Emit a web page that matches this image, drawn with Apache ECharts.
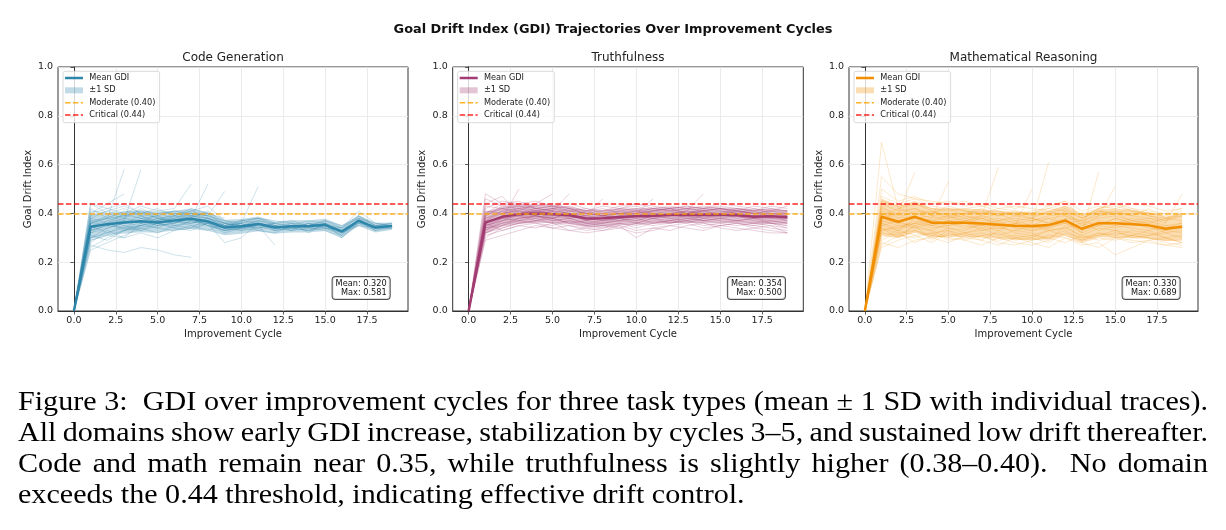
<!DOCTYPE html>
<html>
<head>
<meta charset="utf-8">
<script src="https://cdn.jsdelivr.net/npm/echarts@6/dist/echarts.min.js"></script>
<style>
html,body{margin:0;padding:0;background:#fff;}
#chart{position:absolute;left:0;top:0;width:1226px;height:530px;}
#caption{position:absolute;left:18px;top:385px;width:1107px;transform:scaleX(1.075);transform-origin:0 0;font-family:'Liberation Serif','Times New Roman',serif;font-size:28px;line-height:31px;color:#000;}
#caption .j{text-align:justify;text-align-last:justify;white-space:nowrap;}
#caption .l{text-align:left;white-space:nowrap;}
#caption .tight{word-spacing:-1.3px;}
</style>
</head>
<body>
<div id="chart"></div>
<div id="caption">
<div class="j">Figure 3:&nbsp; GDI over improvement cycles for three task types (mean ± 1 SD with individual traces).</div>
<div class="j tight">All domains show early GDI increase, stabilization by cycles 3–5, and sustained low drift thereafter.</div>
<div class="j">Code and math remain near 0.35, while truthfulness is slightly higher (0.38–0.40).&nbsp; No domain</div>
<div class="l">exceeds the 0.44 threshold, indicating effective drift control.</div>
</div>
<script>
// ---------------- DATA ----------------
const suptitle = 'Goal Drift Index (GDI) Trajectories Over Improvement Cycles';
const panelTitles = ['Code Generation', 'Truthfulness', 'Mathematical Reasoning'];
const cycles = [0,1,2,3,4,5,6,7,8,9,10,11,12,13,14,15,16,17,18,19];
const xTickValues = [0, 2.5, 5, 7.5, 10, 12.5, 15, 17.5];
const thresholdModerate = 0.40;
const thresholdCritical = 0.44;
const legendLabels = ['Mean GDI', '±1 SD', 'Moderate (0.40)', 'Critical (0.44)'];
const statsMean = ['0.320', '0.354', '0.330'];
const statsMax = ['0.581', '0.500', '0.689'];

// mean and standard deviation per cycle
const codeMean = [0,0.345,0.356,0.363,0.368,0.363,0.371,0.378,0.367,0.342,0.347,0.357,0.342,0.347,0.347,0.353,0.326,0.370,0.342,0.348];
const codeSD   = [0,0.050,0.045,0.045,0.045,0.042,0.040,0.042,0.038,0.032,0.030,0.030,0.025,0.025,0.025,0.025,0.025,0.022,0.020,0.015];
const truthMean = [0,0.362,0.386,0.397,0.400,0.397,0.392,0.379,0.380,0.385,0.388,0.390,0.393,0.393,0.393,0.393,0.392,0.386,0.388,0.384];
const truthSD   = [0,0.045,0.040,0.040,0.038,0.036,0.036,0.035,0.034,0.034,0.034,0.033,0.033,0.032,0.032,0.031,0.030,0.030,0.030,0.028];
const mathMean = [0,0.386,0.366,0.386,0.362,0.362,0.362,0.359,0.353,0.349,0.348,0.352,0.371,0.337,0.360,0.360,0.356,0.351,0.337,0.345];
const mathSD   = [0,0.075,0.065,0.065,0.060,0.058,0.058,0.058,0.057,0.057,0.057,0.058,0.060,0.055,0.058,0.060,0.058,0.055,0.050,0.055];

// individual traces, GDI x 100, one value per cycle starting at cycle 0
const codeTraces = [
 [0,34,36,38,37,35,36,38,37,34,35,36,34,35,34,35,33,37,34,35],
 [0,29,31,33,35,36,34,37,36,33,34,35,33,34,35,36,32,36,34,34],
 [0,41,40,42,39,40,41,39,38,35,36,37,35,36,35,36,34,39,35,36],
 [0,37,38,36,39,37,38,41,39,36,34,35,36,34,36,35,31,38,33,35],
 [0,32,34,36,35,38,37,36,37,35,37,38,35,33,34,34,33,36,35,35],
 [0,26,30,33,34,32,35,36,38,34,33,36,34,35,33,35,32,37,34],
 [0,44,40,38,42,39,37,40,38,35,36],
 [0,36,38,58],
 [0,33,35,37,58],
 [0,35,37,39,40,41,42,52],
 [0,30,32,34,33,35,36,38,52],
 [0,38,36,40,38,39,41,40,39,49],
 [0,36,35,37,36,38,37,36,37,35,36,51],
 [0,27,25,24,26,25,23,22],
 [0,40,44,48],
 [0,28,33,30,36,34,37,35,33,36,35,34,36],
 [0,39,41,43,40,42,39,41,43,37,36,38,37,36,35,37,34,41,36,35],
 [0,33,35,34,38,36,37,39,40,35,33,34,35,34,33,34,31,37,33,34],
 [0,36,39,37,36,40,38,37,36,32,34,33,32,35,34,33,30,36,33],
 [0,30,34,36,37,35,39,38,35,33,35,37,33,34,35,35,34,38,35,36],
 [0,42,38,39,41,38,36,39,37,34,37,36,34,33,36,34,33,35,34,34],
 [0,35,32,35,33,36,34,33,36,28,30,36,33,36,32,36,30,37,34,35],
 [0,38,41,39,38,37,40,39,38,36,35,37,36,37,35,37,35,38,36,35],
 [0,31,29,33,35,34,33,35,36,33,34],
 [0,36,38,41,39,36,38,40,39,37,35,34,36],
 [0,34,36,33,37,39,35,34,38,36,34,35,27],
 [0,29,31,30,32,30,33,34,36],
 [0,37,35,38,36,37,39,42,40,38],
 [0,33,37,35,34,36,35,37,35,33,34,36,35,33,36,34,32,35],
 [0,40,42,40,43,41,40,38,41,36,37,38,36,35,37,36,33,39,35,35],
 [0,25,28,31,34],
 [0,44,42,44,40,38,39,37],
 [0,32,36,34,35,37,36,38,35,34,36,33,35,34,33,35,32,36]
];
const truthTraces = [
 [0,36,39,40,41,40,39,38,38,39,39,40,39,40,40,40,39,39,39,38],
 [0,33,37,38,39,38,40,37,36,38,37,39,38,39,38,39,40,38,39,37],
 [0,40,42,43,41,42,41,40,39,41,40,42,41,42,41,42,41,40,41,40],
 [0,30,34,36,37,36,35,34,35,36,34,36,37,36,38,37,36,35,36,34],
 [0,38,41,42,43,44,42,40,41,42,43,41,42,43,42,43,42,41,42,41],
 [0,35,38,39,37,39,38,36,37,38,36,38,37,39,37,38,39,37,36,35],
 [0,42,45,44,42,43,41,42,40,41,42,40,41,40,42,41,40,42,40,39],
 [0,32,35,37,38,36,37,35,34,36,35,37,36,37,36,35,36,35,34,33],
 [0,37,40,41,40,41,40,39,38,37,39,38,40,39,40,41,40,39,38,38],
 [0,34,38,50],
 [0,48,44,43,42,41,40,38,39,40,41,39,40,41,40,39,40,41,39,40],
 [0,39,42,41,44,48],
 [0,36,39,40,42,41,48],
 [0,34,36,38,39,37,38,39,46],
 [0,37,38,39,40,38,39,37,38,39,40,46],
 [0,35,37,39,38,40,39,38,37,38,39,40,39,41,48],
 [0,31,33,35,34,36,33,32,33,34,32,33,35,34,33,35,34,33,32,32],
 [0,39,43,42,41,42,43,41,39,40,41,42,43,42,41,40,42,41,43,42],
 [0,33,36,37,36,35,37,36,35,34,36,35,36,37,35,36,35,36,35,34],
 [0,41,40,41,40,42,40,39,40,42,41,40,39,40,41,42,41,40,41,41],
 [0,36,38,37,39,38,36,37,39,38,37,39,38,37,39,38,37,38,37,36],
 [0,29,31,33,35,34,33,34,33,35,30,34,35,36,34,35,36,34,35,32],
 [0,38,40,42,40,39,41,40,39,40,40,41,40,41,40,40,41,40,40,39],
 [0,43,42,40,41,40,39,41,42,40,39,41,42,40,41,42,40,39,40,40],
 [0,35,37,40,39,38,40,38,37,39,38,39,40,38,39,40,39,38,38,37],
 [0,32,34,36,37,38,36,35,36,37,38,36,37,38,37,36,37,38,36,35],
 [0,40,44,45,42,43,44,42,41,43,44,42,41,42,43,42,41,43,42,41],
 [0,37,41,39,41,40,42,40,39,38,40,41,42,40,41,39,41,40,39,39],
 [0,34,35,38,39,37,38,36,36,37,36,38,36,38,37,38,37,36,37,36],
 [0,44,47,40,39,41,38,39,38,40,39,38,39,40,38,40,38,39,39,38],
 [0,36,33,35,36,34,35,33,34,35,33,34,33,35,36,34,33,34,33,32],
 [0,46,43,44,45,43,42,41,43,42,44,43,42,43,42,44,43,42,41,43]
];
const mathTraces = [
 [0,38,36,39,36,36,37,36,35,35,34,35,37,34,36,36,36,35,34,35],
 [0,31,30,33,30,31,32,30,29,30,31,30,33,29,31,32,31,30,29,29],
 [0,45,43,44,42,41,42,43,41,40,41,42,44,39,42,43,41,40,39,41],
 [0,69,42,40,38,39,37,38,36,37,35,38,36,37,35,38,36,37,34,36],
 [0,34,30,35,33,30,32,34,31,33,32,29,35,30,32,31,33,32,30,31],
 [0,40,38,41,40,42,39,38,40,37,38,36,41,35,39,40,37,36,38,37],
 [0,28,26,29,30,28,31,29,27,30,28,26,30,27,28,23,26,29,27,26],
 [0,36,34,37,35,37,36,35,36,34,33,35,36,32,35,34,36,35,32,33],
 [0,42,40,57],
 [0,37,35,36,38,53],
 [0,33,35,34,36,35,37,39,59],
 [0,39,37,38,37,39,36,35,37,34,36,61],
 [0,35,33,36,34,35,36,33,34,35,33,34,37,32,57],
 [0,41,39,40,41,38,40,42,39,41,40,43,45,38,42,44,41,39,37,40],
 [0,30,33,31,28,32,30,29,33,30,29,31,30,28,30,29,31,30,28,27],
 [0,47,44,46,43,42,41,40,42,41,39,40,42,38,41,40,39,42,38,39],
 [0,35,37,34,33,36,34,35,33,36,35,33,34,36,33,35,34,33,35,34],
 [0,26,29,31,32,29,30,31,28,27,29,30,28,31,29,30,28,29,30,28],
 [0,50,45,47,44,45,43,44,42,43,42,41,43,40,42,44,42,41,40,42],
 [0,38,40,42,39,40,38,39,37,38,37,39,40,36,38,39,37,38,36,48],
 [0,32,31,30,32,33,31,32,30,31,30,28,32,30,31,33,30,31,32,30],
 [0,43,38,39,37,38,39,37,38,36,37,38,39,35,37,36,38,37,35,36],
 [0,36,33,38,35,34,33,36,34,33,35,34,36,33,35,38,36,34,33,34],
 [0,29,32,28,31,30,29,27,30,28,27,29,31,28,26,30,29,28,27,28],
 [0,55,48,46,45,44,45,43,44,42,44,43,45,41,43,42,44,43,41,42],
 [0,37,36,35,37,36,35,34,36,35,50],
 [0,33,34,36,35,37,36,38,35,36,34,35,37,34,36,35,37,36,34,35],
 [0,40,37,38,39,37,38,36,37,39,38,36,38,37,39,51],
 [0,34,32,33,31,34,32,33,35,32,31,33,34,31,34,33,32,31,33,32],
 [0,44,41,42,40,43,41,40,41,39,40,42,41,38,41,40,42,39,38,40],
 [0,27,31,35,29,33,29,31,32,29,30,33,31,29,32,30,31,33,30,28],
 [0,39,42,44,41,39,40,41,39,40,38,41,39,37,40,41,39,38,37,39]
];

// ---------------- STYLE / LAYOUT ----------------
const colors = ['#2E86AB', '#A23B72', '#F18F01'];
const moderateColor = '#FFA500';
const criticalColor = '#FF0000';
const FONT = 'DejaVu Sans';
const grids = [
  {left: 58, top: 67, width: 350, height: 244},
  {left: 452.7, top: 67, width: 350.6, height: 244},
  {left: 849, top: 67, width: 349, height: 244}
];
const panels = [
  {mean: codeMean, sd: codeSD, traces: codeTraces, traceOpacity: 0.3},
  {mean: truthMean, sd: truthSD, traces: truthTraces, traceOpacity: 0.3},
  {mean: mathMean, sd: mathSD, traces: mathTraces, traceOpacity: 0.25}
];

function hexA(hex, a) {
  const n = parseInt(hex.slice(1), 16);
  return 'rgba(' + (n >> 16 & 255) + ',' + (n >> 8 & 255) + ',' + (n & 255) + ',' + a + ')';
}

const chart = echarts.init(document.getElementById('chart'), null, {renderer: 'canvas'});

const xAxes = [], yAxes = [], series = [], graphics = [];
const gridOpts = grids.map(g => ({left: g.left, top: g.top, width: g.width, height: g.height,
  show: true, borderColor: '#333', borderWidth: 1, backgroundColor: 'transparent', containLabel: false}));

grids.forEach((g, p) => {
  const color = colors[p];
  const P = panels[p];
  xAxes.push({
    type: 'value', gridIndex: p, min: -0.95, max: 19.95,
    name: 'Improvement Cycle', nameLocation: 'middle', nameGap: 18,
    nameTextStyle: {fontFamily: FONT, fontSize: 10, color: '#222'},
    axisLine: {show: true, onZero: false, lineStyle: {color: '#333', width: 1}},
    axisTick: {show: true, customValues: xTickValues, length: 3.5, lineStyle: {color: '#333', width: 0.8}},
    axisLabel: {customValues: xTickValues, formatter: v => Number(v).toFixed(1), fontFamily: FONT, fontSize: 9.5, color: '#222', margin: 5},
    splitLine: {show: true, lineStyle: {color: '#e6e6e6', width: 0.8}}
  });
  yAxes.push({
    type: 'value', gridIndex: p, min: 0, max: 1, interval: 0.2,
    name: 'Goal Drift Index', nameLocation: 'middle', nameGap: 25,
    nameTextStyle: {fontFamily: FONT, fontSize: 10, color: '#222'},
    axisLine: {show: true, lineStyle: {color: '#333', width: 1}},
    axisTick: {show: true, length: 3.5, lineStyle: {color: '#333', width: 0.8}},
    axisLabel: {formatter: v => Number(v).toFixed(1), fontFamily: FONT, fontSize: 9.5, color: '#222', margin: 5},
    splitLine: {show: true, lineStyle: {color: '#e6e6e6', width: 0.8}}
  });

  // ±1 SD band (polygon through the axis scales)
  const lower = P.mean.map((m, i) => m - P.sd[i]);
  const upper = P.mean.map((m, i) => m + P.sd[i]);
  series.push({
    type: 'custom', name: 'band' + p, xAxisIndex: p, yAxisIndex: p, silent: true, z: 1,
    data: cycles.map((c, i) => [c, lower[i], upper[i]]),
    encode: {x: 0, y: [1, 2]},
    renderItem: (params, api) => {
      if (params.dataIndex !== 0) return null;
      const pts = [];
      for (let i = 0; i < cycles.length; i++) pts.push(api.coord([cycles[i], lower[i]]));
      for (let i = cycles.length - 1; i >= 0; i--) pts.push(api.coord([cycles[i], upper[i]]));
      return {type: 'polygon', shape: {points: pts}, style: {fill: hexA(color, 0.3)}};
    }
  });

  // individual traces
  P.traces.forEach((tr, k) => {
    series.push({
      type: 'line', name: 'trace' + p + '_' + k, xAxisIndex: p, yAxisIndex: p, silent: true, z: 2,
      data: tr.map((v, i) => [cycles[i], v / 100]),
      symbol: 'none', lineStyle: {color: color, width: 0.8, opacity: P.traceOpacity}
    });
  });

  // mean line
  series.push({
    type: 'line', name: 'mean' + p, xAxisIndex: p, yAxisIndex: p, silent: true, z: 3,
    data: P.mean.map((v, i) => [cycles[i], v]),
    symbol: 'none', lineStyle: {color: color, width: 2.5}
  });

  // threshold lines
  [[thresholdModerate, moderateColor], [thresholdCritical, criticalColor]].forEach(([val, c], k) => {
    series.push({
      type: 'line', name: 'thr' + p + '_' + k, xAxisIndex: p, yAxisIndex: p, silent: true, z: 4,
      data: [], symbol: 'none',
      markLine: {
        silent: true, symbol: 'none', label: {show: false}, animation: false,
        lineStyle: {color: c, type: [5.5, 2.4], width: 1.5, opacity: 0.85},
        emphasis: {disabled: true},
        data: [{yAxis: val}]
      }
    });
  });

  // subplot title
  graphics.push({type: 'text', x: g.left + g.width / 2, y: 57.5, silent: true,
    style: {text: panelTitles[p], fontFamily: FONT, fontSize: 12, fill: '#222', align: 'center', verticalAlign: 'middle'}});

  // legend box (drawn)
  const L = g.left, T = g.top;
  const rowY = [T + 11, T + 23.3, T + 35.7, T + 48];
  graphics.push({type: 'rect', silent: true, shape: {x: L + 5, y: T + 4.3, width: 96.6, height: 51.4, r: 2},
    style: {fill: 'rgba(255,255,255,0.8)', stroke: '#d0d0d0', lineWidth: 0.8}, z: 10});
  graphics.push({type: 'line', silent: true, z: 11, shape: {x1: L + 7, y1: rowY[0], x2: L + 25, y2: rowY[0]},
    style: {stroke: color, lineWidth: 2.5}});
  graphics.push({type: 'rect', silent: true, z: 11, shape: {x: L + 7, y: rowY[1] - 3, width: 18, height: 6},
    style: {fill: hexA(color, 0.3)}});
  graphics.push({type: 'line', silent: true, z: 11, shape: {x1: L + 7, y1: rowY[2], x2: L + 25, y2: rowY[2]},
    style: {stroke: moderateColor, lineWidth: 1.5, lineDash: [5.5, 2.4], opacity: 0.85}});
  graphics.push({type: 'line', silent: true, z: 11, shape: {x1: L + 7, y1: rowY[3], x2: L + 25, y2: rowY[3]},
    style: {stroke: criticalColor, lineWidth: 1.5, lineDash: [5.5, 2.4], opacity: 0.85}});
  legendLabels.forEach((t, k) => {
    graphics.push({type: 'text', silent: true, z: 11, x: L + 31.3, y: rowY[k],
      style: {text: t, fontFamily: FONT, fontSize: 8.2, fill: '#222', align: 'left', verticalAlign: 'middle'}});
  });

  // stats box
  const R = g.left + g.width, B = g.top + g.height;
  graphics.push({type: 'text', silent: true, z: 11, x: R - 18.3, y: B - 12,
    style: {text: 'Mean: ' + statsMean[p] + '\nMax: ' + statsMax[p], fontFamily: FONT, fontSize: 8.2, lineHeight: 9,
      fill: '#111', align: 'right', verticalAlign: 'bottom',
      backgroundColor: 'rgba(255,255,255,0.8)', borderColor: 'rgba(0,0,0,0.7)', borderWidth: 1, borderRadius: 3, padding: [2, 3, 2, 3]}});
});

graphics.push({type: 'text', x: 613, y: 30, silent: true,
  style: {text: suptitle, fontFamily: FONT, fontSize: 12.9, fontWeight: 'bold', fill: '#111', align: 'center', verticalAlign: 'middle'}});

chart.setOption({
  animation: false,
  backgroundColor: '#fff',
  textStyle: {fontFamily: FONT},
  grid: gridOpts,
  xAxis: xAxes,
  yAxis: yAxes,
  series: series,
  graphic: {elements: graphics}
});
</script>
</body>
</html>
